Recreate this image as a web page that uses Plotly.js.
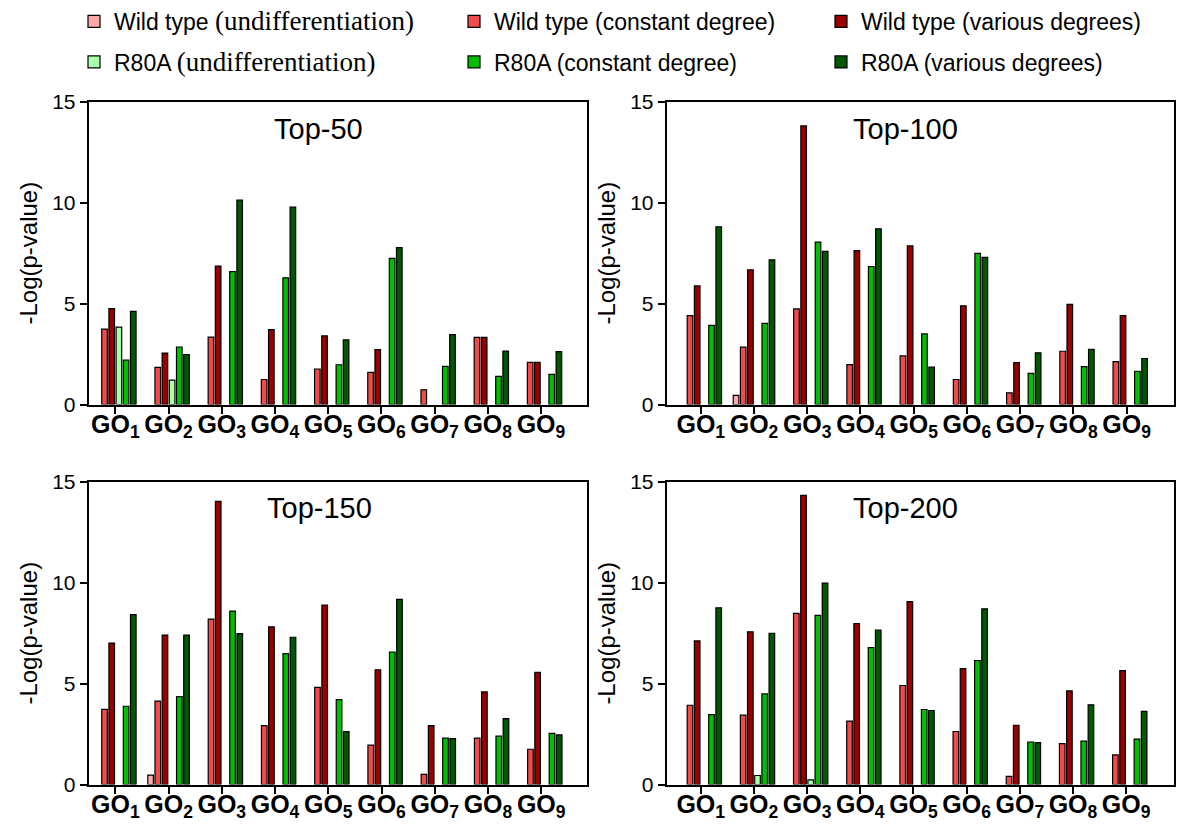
<!DOCTYPE html>
<html>
<head>
<meta charset="utf-8">
<script src="https://cdn.plot.ly/plotly-3.0.1.min.js"></script>
<style>html,body{margin:0;padding:0;background:#fff;}#chart{width:1200px;height:832px;}</style>
</head>
<body>
<div id="chart"></div>
<script>
// Categories
const categories = ['GO1','GO2','GO3','GO4','GO5','GO6','GO7','GO8','GO9'];
const tickLabels = ['1','2','3','4','5','6','7','8','9'].map(n => '<b>GO<sub>' + n + '</sub></b>');
const panelTitles = ['Top-50','Top-100','Top-150','Top-200'];
const seriesNames = [
  'Wild type <span style="font-family:Liberation Serif, Times New Roman, serif;font-size:27px">(undifferentiation)</span>',
  'Wild type (constant degree)',
  'Wild type (various degrees)',
  'R80A <span style="font-family:Liberation Serif, Times New Roman, serif;font-size:27px">(undifferentiation)</span>',
  'R80A (constant degree)',
  'R80A (various degrees)'
];
const seriesColors = ['#ffa8a8','#f04a4a','#990000','#aaffaa','#00bf00','#005800'];

// Top-50
const top50_wtUndiff = [null,null,null,null,null,null,null,null,null];
const top50_wtConst  = [3.74,1.84,3.34,1.24,1.76,1.59,0.73,3.33,2.09];
const top50_wtVar    = [4.75,2.55,6.86,3.71,3.40,2.72,null,3.33,2.09];
const top50_rUndiff  = [3.84,1.21,null,null,null,null,null,null,null];
const top50_rConst   = [2.20,2.85,6.59,6.28,1.97,7.24,1.89,1.39,1.49];
const top50_rVar     = [4.62,2.48,10.13,9.79,3.20,7.78,3.46,2.65,2.62];
// Top-100
const top100_wtUndiff = [null,0.45,null,null,null,null,null,null,null];
const top100_wtConst  = [4.41,2.84,4.74,1.98,2.41,1.24,0.58,2.64,2.13];
const top100_wtVar    = [5.88,6.67,13.81,7.63,7.86,4.89,2.08,4.96,4.41];
const top100_rUndiff  = [null,null,null,null,null,null,null,null,null];
const top100_rConst   = [3.92,4.02,8.05,6.84,3.50,7.49,1.54,1.88,1.65];
const top100_rVar     = [8.81,7.17,7.59,8.71,1.86,7.29,2.56,2.74,2.28];
// Top-150
const top150_wtUndiff = [null,0.47,null,null,null,null,null,null,null];
const top150_wtConst  = [3.73,4.14,8.20,2.92,4.82,1.95,0.50,2.30,1.75];
const top150_wtVar    = [7.01,7.41,14.04,7.82,8.90,5.69,2.92,4.59,5.56];
const top150_rUndiff  = [null,null,null,null,null,null,null,null,null];
const top150_rConst   = [3.88,4.36,8.60,6.49,4.21,6.57,2.30,2.40,2.54];
const top150_rVar     = [8.42,7.41,7.48,7.30,2.62,9.18,2.28,3.27,2.46];
// Top-200
const top200_wtUndiff = [null,null,null,null,null,null,null,null,null];
const top200_wtConst  = [3.93,3.44,8.48,3.14,4.91,2.63,0.41,2.03,1.47];
const top200_wtVar    = [7.12,7.57,14.33,7.98,9.07,5.75,2.94,4.64,5.65];
const top200_rUndiff  = [null,0.45,0.23,null,null,null,null,null,null];
const top200_rConst   = [3.47,4.49,8.39,6.79,3.72,6.15,2.11,2.15,2.25];
const top200_rVar     = [8.76,7.50,9.98,7.65,3.67,8.71,2.08,3.95,3.63];

const panels = [
  [top50_wtUndiff, top50_wtConst, top50_wtVar, top50_rUndiff, top50_rConst, top50_rVar],
  [top100_wtUndiff, top100_wtConst, top100_wtVar, top100_rUndiff, top100_rConst, top100_rVar],
  [top150_wtUndiff, top150_wtConst, top150_wtVar, top150_rUndiff, top150_rConst, top150_rVar],
  [top200_wtUndiff, top200_wtConst, top200_wtVar, top200_rUndiff, top200_rConst, top200_rVar]
];

const legendIds = ['legend','legend2','legend3','legend4','legend5','legend6'];
const axisIds = [['x','y'],['x2','y2'],['x3','y3'],['x4','y4']];
const traces = [];
panels.forEach((series, p) => {
  series.forEach((vals, s) => {
    traces.push({
      type: 'bar',
      x: categories,
      y: vals,
      name: seriesNames[s],
      xaxis: axisIds[p][0],
      yaxis: axisIds[p][1],
      marker: {color: seriesColors[s], line: {color: '#000', width: 1.2}},
      showlegend: p === 0,
      legend: legendIds[s],
      hoverinfo: 'skip'
    });
  });
});

const FONT = 'Liberation Sans, Arial, sans-serif';
function xAxis(domain, range, anchor) {
  return {
    domain: domain, anchor: anchor, type: 'category', range: range,
    tickmode: 'array', tickvals: categories, ticktext: tickLabels,
    showline: true, linecolor: '#000', linewidth: 2, mirror: true,
    ticks: 'outside', ticklen: 7, tickwidth: 2, tickcolor: '#000',
    tickfont: {family: FONT, size: 25, color: '#000'},
    ticklabelstandoff: -11,
    showgrid: false, zeroline: false, fixedrange: true
  };
}
function yAxis(domain, anchor) {
  return {
    domain: domain, anchor: anchor, range: [0, 15],
    tickvals: [0,5,10,15], ticktext: ['0','5','10','15'],
    showline: true, linecolor: '#000', linewidth: 2, mirror: true,
    ticks: 'outside', ticklen: 7, tickwidth: 2, tickcolor: '#000',
    tickfont: {family: FONT, size: 21, color: '#000'},
    title: {text: '-Log(p-value)', font: {family: FONT, size: 24, color: '#000'}, standoff: 8},
    showgrid: false, zeroline: false, fixedrange: true
  };
}

const W = 1200, H = 832;
const px = v => v / W, py = v => 1 - v / H;

const legendFont = {family: FONT, size: 23, color: '#000'};
function legendAt(xpx, ypx) {
  return {
    orientation: 'h', x: px(xpx), xanchor: 'left', y: py(ypx), yanchor: 'middle',
    font: legendFont, bgcolor: 'rgba(0,0,0,0)', borderwidth: 0
  };
}
const layout = {
  width: W, height: H,
  margin: {l: 0, r: 0, t: 0, b: 0},
  paper_bgcolor: '#fff', plot_bgcolor: '#fff',
  font: {family: FONT, color: '#000'},
  barmode: 'group', bargap: 0.19, bargroupgap: 0.22,
  xaxis:  xAxis([px(88.7), px(586.7)], [-0.5, 8.86], 'y'),
  yaxis:  yAxis([py(404), py(101)], 'x'),
  xaxis2: xAxis([px(666.7), px(1174)], [-0.64, 8.89], 'y2'),
  yaxis2: yAxis([py(404), py(101)], 'x2'),
  xaxis3: xAxis([px(88.7), px(587)], [-0.5, 8.86], 'y3'),
  yaxis3: yAxis([py(784.5), py(481.5)], 'x3'),
  xaxis4: xAxis([px(666.7), px(1173.5)], [-0.64, 8.89], 'y4'),
  yaxis4: yAxis([py(784.5), py(481.5)], 'x4'),
  legend:  legendAt(74, 21),
  legend2: legendAt(454, 21),
  legend3: legendAt(821, 21),
  legend4: legendAt(74, 62),
  legend5: legendAt(454, 62),
  legend6: legendAt(821, 62),
  annotations: [
    {text: panelTitles[0], xref: 'paper', yref: 'paper', x: px(318), y: py(128), xanchor: 'center', yanchor: 'middle', showarrow: false, font: {family: FONT, size: 29, color: '#000'}},
    {text: panelTitles[1], xref: 'paper', yref: 'paper', x: px(905), y: py(128), xanchor: 'center', yanchor: 'middle', showarrow: false, font: {family: FONT, size: 29, color: '#000'}},
    {text: panelTitles[2], xref: 'paper', yref: 'paper', x: px(319), y: py(507.5), xanchor: 'center', yanchor: 'middle', showarrow: false, font: {family: FONT, size: 29, color: '#000'}},
    {text: panelTitles[3], xref: 'paper', yref: 'paper', x: px(905), y: py(508), xanchor: 'center', yanchor: 'middle', showarrow: false, font: {family: FONT, size: 29, color: '#000'}}
  ]
};

Plotly.newPlot('chart', traces, layout, {displayModeBar: false, staticPlot: true});
</script>
</body>
</html>
